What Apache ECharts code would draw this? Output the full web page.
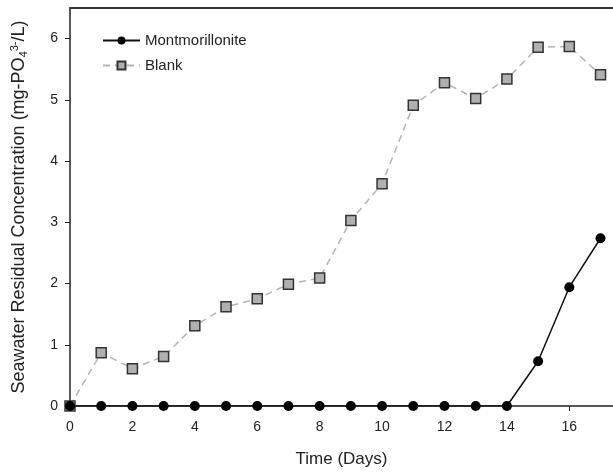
<!DOCTYPE html>
<html><head><meta charset="utf-8">
<script src="https://cdn.jsdelivr.net/npm/echarts@6/dist/echarts.min.js"></script>
<style>html,body{margin:0;padding:0;background:#fff}#c{width:613px;height:473px}</style>
</head><body><div id="c"></div>
<script>
var days = [0,1,2,3,4,5,6,7,8,9,10,11,12,13,14,15,16,17];
var montmorillonite = [0,0,0,0,0,0,0,0,0,0,0,0,0,0,0,0.73,1.94,2.74];
var blank = [0,0.87,0.61,0.81,1.31,1.62,1.75,1.99,2.09,3.03,3.63,4.91,5.28,5.02,5.34,5.86,5.87,5.41];
var xTicks = [0,2,4,6,8,10,12,14,16];
var yTicks = [0,1,2,3,4,5,6];

function pairs(xs, ys){ return xs.map(function(x,i){ return [x, ys[i]]; }); }
var FONT = 'Liberation Sans';
var TXT = '#222';
var chart = echarts.init(document.getElementById('c'));
chart.setOption({
  animation:false,
  backgroundColor:'#fff',
  textStyle:{fontFamily:FONT},
  grid:{left:70, right:0, top:8, bottom:67},
  legend:{
    left:97, top:28, orient:'vertical', itemWidth:37, itemHeight:10, itemGap:10,
    textStyle:{fontFamily:FONT, fontSize:15, color:TXT},
    data:['Montmorillonite','Blank']
  },
  xAxis:[{
    type:'value', min:0, max:17.4,
    name:'Time (Days)', nameLocation:'middle', nameGap:45,
    nameTextStyle:{fontFamily:FONT, fontSize:17, color:TXT},
    axisLine:{show:true, onZero:false, lineStyle:{color:'#222', width:1.5}},
    axisTick:{show:true, inside:false, length:5, customValues:xTicks, lineStyle:{color:'#222'}},
    axisLabel:{fontFamily:FONT, fontSize:14, color:TXT, margin:14, customValues:xTicks},
    splitLine:{show:false}
  },{
    type:'value', min:0, max:17.4, position:'top',
    axisLine:{show:true, onZero:false, lineStyle:{color:'#333', width:2}},
    axisTick:{show:false}, axisLabel:{show:false}, splitLine:{show:false}
  }],
  yAxis:{
    type:'value', min:0, max:6.5,
    name:'Seawater Residual Concentration (mg-PO{sub|4}{sup|3-}/L)',
    nameLocation:'middle', nameGap:41, nameRotate:90,
    nameTextStyle:{fontFamily:FONT, fontSize:18, color:TXT,
      rich:{sub:{fontFamily:FONT, fontSize:11, color:TXT, verticalAlign:'bottom', padding:[7,0,0,0]},
            sup:{fontFamily:FONT, fontSize:11, color:TXT, verticalAlign:'top', padding:[0,0,9,0]}}},
    axisLine:{show:true, onZero:false, lineStyle:{color:'#222', width:1.5}},
    axisTick:{show:true, length:5, customValues:yTicks, lineStyle:{color:'#222'}},
    axisLabel:{fontFamily:FONT, fontSize:14, color:TXT, margin:12, customValues:yTicks},
    splitLine:{show:false}
  },
  series:[{
    name:'Blank', type:'line', data:pairs(days, blank),
    symbol:'rect', symbolSize:10,
    lineStyle:{color:'#b4b4b4', width:1.5, type:[7,5]},
    itemStyle:{color:'#b0b0b0', borderColor:'#333', borderWidth:1.5},
    z:2
  },{
    name:'Montmorillonite', type:'line', data:pairs(days, montmorillonite),
    symbol:'circle', symbolSize:10,
    lineStyle:{color:'#111', width:1.5},
    itemStyle:{color:'#000', borderColor:'#000', borderWidth:0},
    z:3
  }]
});
</script></body></html>
